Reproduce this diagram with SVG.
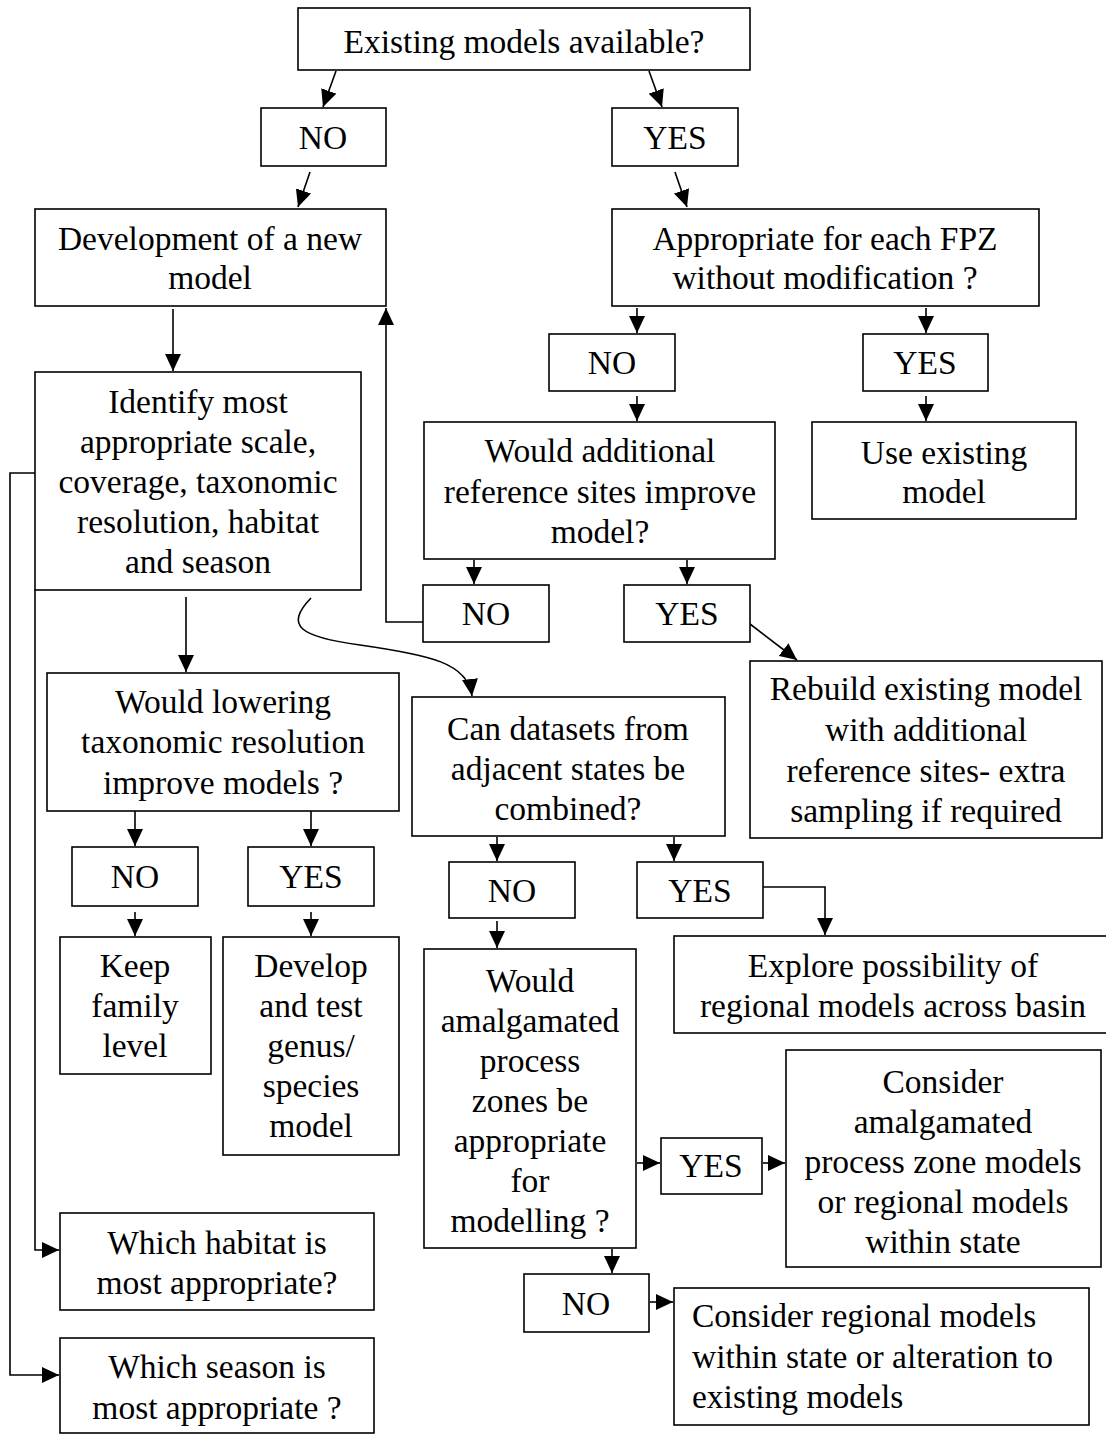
<svg xmlns="http://www.w3.org/2000/svg" width="1106" height="1435" viewBox="0 0 1106 1435">
  <style>
    .box { fill: #ffffff; stroke: #000000; stroke-width: 1.6; }
    .lbl { font-size: 33.5px; fill: #000000; text-anchor: middle; }
    .lft { text-anchor: start; }
    .wire { fill: none; stroke: #000000; stroke-width: 1.6; marker-end: url(#head); }
  </style>
  <defs>
    <marker id="head" markerUnits="userSpaceOnUse" markerWidth="18" markerHeight="16" refX="17" refY="8" orient="auto">
      <path d="M0,0 L17,8 L0,16 z" fill="#000000"/>
    </marker>
  </defs>
  <rect width="1106" height="1435" fill="#ffffff"/>

  <g id="connectors">
    <line class="wire" x1="336" y1="71" x2="323" y2="107"/>
    <line class="wire" x1="649" y1="71" x2="662" y2="107"/>
    <line class="wire" x1="310" y1="172" x2="298" y2="207"/>
    <line class="wire" x1="675" y1="172" x2="687" y2="207"/>
    <line class="wire" x1="173" y1="309" x2="173" y2="371"/>
    <line class="wire" x1="637" y1="308" x2="637" y2="333"/>
    <line class="wire" x1="926" y1="308" x2="926" y2="333"/>
    <line class="wire" x1="637" y1="396" x2="637" y2="421"/>
    <line class="wire" x1="926" y1="396" x2="926" y2="421"/>
    <line class="wire" x1="474" y1="560" x2="474" y2="584"/>
    <line class="wire" x1="687" y1="560" x2="687" y2="584"/>
    <polyline class="wire" points="423,622 386,622 386,308"/>
    <line class="wire" x1="750" y1="624" x2="797" y2="660"/>
    <path class="wire" d="M311,598 C284,626 300,637 360,645 C430,655 468,663 472,696"/>
    <line class="wire" x1="186" y1="597" x2="186" y2="672"/>
    <line class="wire" x1="135" y1="811" x2="135" y2="846"/>
    <line class="wire" x1="311" y1="811" x2="311" y2="846"/>
    <line class="wire" x1="135" y1="912" x2="135" y2="936"/>
    <line class="wire" x1="311" y1="912" x2="311" y2="936"/>
    <line class="wire" x1="497" y1="837" x2="497" y2="861"/>
    <line class="wire" x1="674" y1="837" x2="674" y2="861"/>
    <polyline class="wire" points="763,887 825,887 825,935"/>
    <line class="wire" x1="497" y1="921" x2="497" y2="948"/>
    <line class="wire" x1="637" y1="1163" x2="660" y2="1163"/>
    <line class="wire" x1="763" y1="1163" x2="785" y2="1163"/>
    <line class="wire" x1="612" y1="1249" x2="612" y2="1273"/>
    <line class="wire" x1="650" y1="1302" x2="673" y2="1302"/>
    <polyline class="wire" points="35,590 35,1250 59,1250"/>
    <polyline class="wire" points="35,473 10,473 10,1375 59,1375"/>
  </g>

  <g font-family="Liberation Serif, Tinos, Times New Roman, DejaVu Serif, serif">
  <g id="n-existing">
    <rect class="box" x="298" y="8" width="452" height="62"/>
    <text class="lbl" x="524" y="53">Existing models available?</text>
  </g>
  <g id="n-no1">
    <rect class="box" x="261" y="108" width="125" height="58"/>
    <text class="lbl" x="323" y="149">NO</text>
  </g>
  <g id="n-yes1">
    <rect class="box" x="612" y="108" width="126" height="58"/>
    <text class="lbl" x="675" y="149">YES</text>
  </g>
  <g id="n-develop-new">
    <rect class="box" x="35" y="209" width="351" height="97"/>
    <text class="lbl" x="210" y="250">Development of a new</text>
    <text class="lbl" x="210" y="289">model</text>
  </g>
  <g id="n-appropriate">
    <rect class="box" x="612" y="209" width="427" height="97"/>
    <text class="lbl" x="825" y="250">Appropriate for each FPZ</text>
    <text class="lbl" x="825" y="289">without modification ?</text>
  </g>
  <g id="n-identify">
    <rect class="box" x="35" y="372" width="326" height="218"/>
    <text class="lbl" x="198" y="413">Identify most</text>
    <text class="lbl" x="198" y="453">appropriate scale,</text>
    <text class="lbl" x="198" y="493">coverage, taxonomic</text>
    <text class="lbl" x="198" y="533">resolution, habitat</text>
    <text class="lbl" x="198" y="573">and season</text>
  </g>
  <g id="n-no2">
    <rect class="box" x="549" y="334" width="126" height="57"/>
    <text class="lbl" x="612" y="374">NO</text>
  </g>
  <g id="n-yes2">
    <rect class="box" x="863" y="334" width="125" height="57"/>
    <text class="lbl" x="925" y="374">YES</text>
  </g>
  <g id="n-additional-sites">
    <rect class="box" x="424" y="422" width="351" height="137"/>
    <text class="lbl" x="600" y="462">Would additional</text>
    <text class="lbl" x="600" y="503">reference sites improve</text>
    <text class="lbl" x="600" y="543">model?</text>
  </g>
  <g id="n-use-existing">
    <rect class="box" x="812" y="422" width="264" height="97"/>
    <text class="lbl" x="944" y="464">Use existing</text>
    <text class="lbl" x="944" y="503">model</text>
  </g>
  <g id="n-no3">
    <rect class="box" x="423" y="585" width="126" height="57"/>
    <text class="lbl" x="486" y="625">NO</text>
  </g>
  <g id="n-yes3">
    <rect class="box" x="624" y="585" width="126" height="57"/>
    <text class="lbl" x="687" y="625">YES</text>
  </g>
  <g id="n-rebuild">
    <rect class="box" x="750" y="661" width="352" height="177"/>
    <text class="lbl" x="926" y="700">Rebuild existing model</text>
    <text class="lbl" x="926" y="741">with additional</text>
    <text class="lbl" x="926" y="782">reference sites- extra</text>
    <text class="lbl" x="926" y="822">sampling if required</text>
  </g>
  <g id="n-lowering">
    <rect class="box" x="47" y="673" width="352" height="138"/>
    <text class="lbl" x="223" y="713">Would lowering</text>
    <text class="lbl" x="223" y="753">taxonomic resolution</text>
    <text class="lbl" x="223" y="794">improve models ?</text>
  </g>
  <g id="n-datasets">
    <rect class="box" x="412" y="697" width="313" height="139"/>
    <text class="lbl" x="568" y="740">Can datasets from</text>
    <text class="lbl" x="568" y="780">adjacent states be</text>
    <text class="lbl" x="568" y="820">combined?</text>
  </g>
  <g id="n-no4">
    <rect class="box" x="72" y="847" width="126" height="59"/>
    <text class="lbl" x="135" y="888">NO</text>
  </g>
  <g id="n-yes4">
    <rect class="box" x="248" y="847" width="126" height="59"/>
    <text class="lbl" x="311" y="888">YES</text>
  </g>
  <g id="n-no5">
    <rect class="box" x="449" y="862" width="126" height="56"/>
    <text class="lbl" x="512" y="902">NO</text>
  </g>
  <g id="n-yes5">
    <rect class="box" x="637" y="862" width="126" height="56"/>
    <text class="lbl" x="700" y="902">YES</text>
  </g>
  <g id="n-keep-family">
    <rect class="box" x="60" y="937" width="151" height="137"/>
    <text class="lbl" x="135" y="977">Keep</text>
    <text class="lbl" x="135" y="1017">family</text>
    <text class="lbl" x="135" y="1057">level</text>
  </g>
  <g id="n-genus-species">
    <rect class="box" x="223" y="937" width="176" height="218"/>
    <text class="lbl" x="311" y="977">Develop</text>
    <text class="lbl" x="311" y="1017">and test</text>
    <text class="lbl" x="311" y="1057">genus/</text>
    <text class="lbl" x="311" y="1097">species</text>
    <text class="lbl" x="311" y="1137">model</text>
  </g>
  <g id="n-explore">
    <rect class="box" x="674" y="936" width="438" height="97"/>
    <text class="lbl" x="893" y="977">Explore possibility of</text>
    <text class="lbl" x="893" y="1017">regional models across basin</text>
  </g>
  <g id="n-amalgamated-q">
    <rect class="box" x="424" y="949" width="212" height="299"/>
    <text class="lbl" x="530" y="992">Would</text>
    <text class="lbl" x="530" y="1032">amalgamated</text>
    <text class="lbl" x="530" y="1072">process</text>
    <text class="lbl" x="530" y="1112">zones be</text>
    <text class="lbl" x="530" y="1152">appropriate</text>
    <text class="lbl" x="530" y="1192">for</text>
    <text class="lbl" x="530" y="1232">modelling ?</text>
  </g>
  <g id="n-yes6">
    <rect class="box" x="661" y="1138" width="101" height="56"/>
    <text class="lbl" x="711" y="1177">YES</text>
  </g>
  <g id="n-amalgamated-models">
    <rect class="box" x="786" y="1050" width="315" height="217"/>
    <text class="lbl" x="943" y="1093">Consider</text>
    <text class="lbl" x="943" y="1133">amalgamated</text>
    <text class="lbl" x="943" y="1173">process zone models</text>
    <text class="lbl" x="943" y="1213">or regional models</text>
    <text class="lbl" x="943" y="1253">within state</text>
  </g>
  <g id="n-no6">
    <rect class="box" x="524" y="1274" width="125" height="58"/>
    <text class="lbl" x="586" y="1315">NO</text>
  </g>
  <g id="n-regional-models">
    <rect class="box" x="674" y="1288" width="415" height="137"/>
    <text class="lbl lft" x="692" y="1327">Consider regional models</text>
    <text class="lbl lft" x="692" y="1368">within state or alteration to</text>
    <text class="lbl lft" x="692" y="1408">existing models</text>
  </g>
  <g id="n-habitat">
    <rect class="box" x="60" y="1213" width="314" height="97"/>
    <text class="lbl" x="217" y="1254">Which habitat is</text>
    <text class="lbl" x="217" y="1294">most appropriate?</text>
  </g>
  <g id="n-season">
    <rect class="box" x="60" y="1338" width="314" height="95"/>
    <text class="lbl" x="217" y="1378">Which season is</text>
    <text class="lbl" x="217" y="1419">most appropriate ?</text>
  </g>
  </g>
</svg>
